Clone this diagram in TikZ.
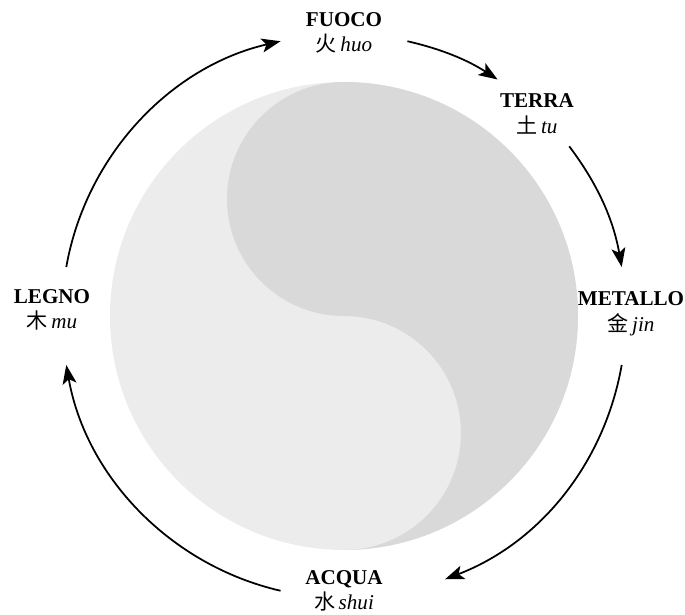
\documentclass[tikz,border=0pt]{standalone}
\usepackage{fontspec}
\setmainfont{Liberation Serif}
\newfontfamily\cjk{Noto Sans CJK SC}
\usepackage{xcolor}
\usepackage{tikz}
\usetikzlibrary{arrows.meta,positioning,calc}
\definecolor{yinscuro}{HTML}{D9D9D9}
\definecolor{yangchiaro}{HTML}{ECECEC}
\tikzset{
  elem/.style={align=center, font=\fontsize{12}{14.5}\selectfont, inner sep=1pt},
  ciclo/.style={-{Stealth[length=3.8mm, width=2.8mm, inset=0.9mm]}, line width=1pt, looseness=0.93},
}
\newcommand{\elemento}[3]{\textbf{#1}\\{\cjk #2}\,\textit{#3}}

\begin{document}
\begin{tikzpicture}[>=Stealth]
    \useasboundingbox (-6.88,-5.98) rectangle (6.82,6.32);
    % yin-yang
    \fill[yangchiaro] (0,0) circle[radius=4.68];
    \fill[yinscuro] (0,4.68) arc[start angle=90, end angle=-90, radius=4.68]
                    arc[start angle=-90, end angle=90, radius=2.34]
                    arc[start angle=-90, end angle=-270, radius=2.34] -- cycle;
    % i cinque elementi
    \node[elem] (Fuoco)   at (0,5.66)     {\elemento{FUOCO}{火}{huo}};
    \node[elem] (Terra)   at (3.86,4.04)  {\elemento{TERRA}{土}{tu}};
    \node[elem] (Metallo) at (5.74,0.04)  {\elemento{METALLO}{金}{jin}};
    \node[elem] (Acqua)   at (0,-5.5)     {\elemento{ACQUA}{水}{shui}};
    \node[elem] (Legno)   at (-5.84,0.12) {\elemento{LEGNO}{木}{mu}};
    % estremi delle frecce
    \foreach \nome/\ang in {LegnoA/170, FuocoB/103, FuocoA/77, TerraB/57,
                            TerraA/37, MetalloB/10, MetalloA/-10, AcquaB/-69,
                            AcquaA/-103, LegnoB/-170}
      \coordinate (\nome) at (\ang:5.64);
    \draw[ciclo] (LegnoA) to[bend left=33.5] (FuocoB);
    \draw[ciclo] (FuocoA) to[bend left=10] (TerraB);
    \draw[ciclo] (TerraA) to[bend left=13.5] (MetalloB);
    \draw[ciclo] (MetalloA) to[bend left=29.5] (AcquaB);
    \draw[ciclo] (AcquaA) to[bend left=33.5] (LegnoB);
\end{tikzpicture}
\end{document}
